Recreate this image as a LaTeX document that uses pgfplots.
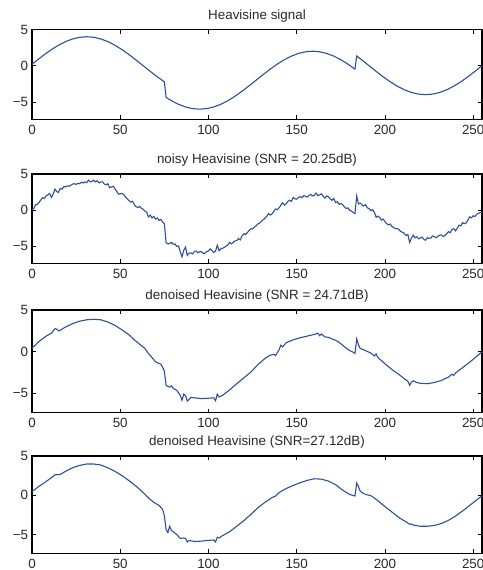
\documentclass[border=0pt]{standalone}
\usepackage{fontspec}
\setmainfont{Liberation Sans}
\usepackage{pgfplots}
\pgfplotsset{compat=1.18}
\definecolor{mblue}{RGB}{42,78,175}
\definecolor{tgray}{RGB}{40,40,40}
\newcommand{\tf}[1]{{\fontsize{13.4}{15}\selectfont #1}}
\pgfplotsset{
  every axis/.append style={line width=1.1pt},
  every tick/.append style={black, line width=0.6pt},
  every tick label/.append style={text=tgray},
  every x tick label/.append style={yshift=-1.5pt},
}
\pgfplotsset{hv/.style={
  scale only axis, width=450pt, anchor=north west,
  xmin=0, xmax=255, ymin=-7.4, ymax=5,
  tick align=inside, major tick length=4pt,
  xtick={0,50,100,150,200,250}, xticklabels={\tf{0},\tf{50},\tf{100},\tf{150},\tf{200},\tf{250}},
  ytick={-5,0,5}, yticklabels={\tf{\textminus5},\tf{0},\tf{5}},
}}
\newcommand{\ptitle}[1]{\node[anchor=base, text=tgray, inner sep=0pt] at ([yshift=10.3pt]rel axis cs:0.5,1) {\tf{#1}};}
\begin{document}
\begin{tikzpicture}
\begin{axis}[hv, at={(32pt,-29.5pt)}, height=89.8pt, clip=false]
\addplot[mblue, line width=1.1pt, mark=none] coordinates {(0,0.196)(3,0.780)(7,1.531)(11,2.222)(15,2.828)(19,3.326)(23,3.696)(27,3.923)(31,4.000)(35,3.923)(39,3.696)(43,3.326)(47,2.828)(51,2.222)(55,1.531)(59,0.780)(63,0)(67,-0.780)(71,-1.531)(75,-2.222)(76,-4.383)(79,-4.828)(83,-5.326)(87,-5.696)(91,-5.923)(95,-6)(99,-5.923)(103,-5.696)(107,-5.326)(111,-4.828)(115,-4.222)(119,-3.531)(123,-2.780)(127,-2)(131,-1.220)(135,-0.469)(139,0.222)(143,0.828)(147,1.326)(151,1.696)(155,1.923)(159,2.000)(163,1.923)(167,1.696)(171,1.326)(175,0.828)(179,0.222)(183,-0.469)(184,1.348)(187,0.780)(191,0)(195,-0.780)(199,-1.531)(203,-2.222)(207,-2.828)(211,-3.326)(215,-3.696)(219,-3.923)(223,-4)(227,-3.923)(231,-3.696)(235,-3.326)(239,-2.828)(243,-2.222)(247,-1.531)(251,-0.780)(255,0)};
\ptitle{Heavisine signal}
\end{axis}
\begin{axis}[hv, at={(32pt,-174pt)}, height=89.3pt, clip=false]
\addplot[mblue, line width=1.1pt, mark=none] coordinates {(0,0.10)(1,0.2)(2,0.75)(3,0.8)(4,1.05)(5,1.4)(6,1.70)(7,1.6)(8,1.95)(9,2.1)(10,2.30)(11,1.75)(12,2.2)(13,2.9)(14,2.55)(15,2.45)(16,3.0)(17,2.9)(18,3.25)(19,3.2)(20,3.35)(21,3.3)(22,3.45)(23,3.6)(24,3.65)(25,3.55)(26,3.7)(27,3.65)(28,3.85)(29,3.75)(30,3.9)(31,3.8)(32,4.15)(33,3.9)(34,3.95)(35,4.15)(36,3.9)(37,4.05)(38,3.75)(39,3.9)(40,3.9)(41,3.6)(42,3.5)(43,3.65)(44,3.1)(45,3.2)(46,3.3)(47,2.95)(48,2.6)(49,2.2)(50,2.25)(51,2.3)(52,2.15)(53,1.8)(54,1.55)(55,1.3)(56,1.1)(57,1.2)(58,0.75)(59,0.45)(60,0.35)(61,0.5)(62,0.25)(63,0.1)(64,-0.15)(65,-0.3)(66,-0.95)(67,-0.7)(68,-1.1)(69,-0.9)(70,-1.25)(71,-1.1)(72,-1.45)(73,-1.3)(74,-1.65)(75,-1.9)(76,-4.55)(77,-4.7)(78,-4.65)(79,-4.5)(80,-4.75)(81,-4.7)(82,-5.05)(83,-5.0)(84,-5.8)(85,-6.5)(86,-5.6)(87,-5.15)(88,-6.3)(89,-6.0)(90,-5.95)(91,-6.1)(92,-5.75)(93,-5.7)(94,-5.95)(95,-5.8)(96,-5.8)(97,-6.0)(98,-6.0)(99,-5.75)(100,-5.7)(101,-5.4)(102,-5.6)(103,-5.9)(104,-5.7)(105,-4.9)(106,-5.65)(107,-5.4)(108,-5.3)(109,-5.2)(110,-5.0)(111,-4.85)(112,-4.5)(113,-4.7)(114,-4.5)(115,-4.3)(116,-4.25)(117,-3.95)(118,-4.15)(119,-3.6)(120,-3.3)(121,-3.4)(122,-3.15)(123,-2.85)(124,-2.6)(125,-2.65)(126,-2.35)(127,-2.2)(128,-1.95)(129,-1.8)(130,-1.55)(131,-1.35)(132,-1.15)(133,-0.9)(134,-0.5)(135,-0.7)(136,-0.55)(137,-0.2)(138,0.15)(139,0.05)(140,0.3)(141,0.65)(142,1.0)(143,0.7)(144,0.85)(145,1.2)(146,1.35)(147,1.2)(148,1.75)(149,1.55)(150,1.5)(151,1.75)(152,1.85)(153,1.7)(154,2.0)(155,1.9)(156,1.8)(157,2.05)(158,2.15)(159,1.95)(160,2.05)(161,2.35)(162,2.0)(163,2.1)(164,2.25)(165,1.9)(166,1.65)(167,1.95)(168,1.85)(169,1.55)(170,1.35)(171,1.6)(172,1.05)(173,1.15)(174,0.8)(175,0.9)(176,0.75)(177,0.45)(178,0.2)(179,0.3)(180,-0.05)(181,-0.15)(182,-0.35)(183,-0.5)(184,1.95)(185,0.85)(186,0.95)(187,0.7)(188,0.55)(189,0.75)(190,0.3)(191,0.2)(192,-0.1)(193,0.05)(194,-0.3)(195,-1.0)(196,-0.85)(197,-1.05)(198,-1.4)(199,-1.25)(200,-1.6)(201,-1.9)(202,-2.05)(203,-1.95)(204,-2.3)(205,-2.45)(206,-2.6)(207,-2.55)(208,-2.75)(209,-3.0)(210,-3.1)(211,-3.25)(212,-3.55)(213,-3.4)(214,-4.5)(215,-3.9)(216,-3.5)(217,-3.85)(218,-3.7)(219,-4.0)(220,-3.9)(221,-3.75)(222,-4.05)(223,-4.2)(224,-3.85)(225,-3.95)(226,-3.9)(227,-3.6)(228,-3.7)(229,-3.85)(230,-3.65)(231,-3.5)(232,-3.45)(233,-3.7)(234,-3.55)(235,-3.3)(236,-3.0)(237,-3.15)(238,-2.7)(239,-2.6)(240,-2.9)(241,-2.5)(242,-2.1)(243,-2.2)(244,-1.75)(245,-1.9)(246,-1.8)(247,-1.4)(248,-0.95)(249,-1.1)(250,-0.8)(251,-0.9)(252,-0.6)(253,-0.45)(254,-0.35)(255,-0.3)};
\ptitle{noisy Heavisine (SNR = 20.25dB)}
\end{axis}
\begin{axis}[hv, at={(32pt,-310pt)}, height=102.7pt, clip=false]
\addplot[mblue, line width=1.1pt, mark=none] coordinates {(0,0.4)(4,1.2)(8,1.85)(11,2.2)(13,2.75)(14,2.7)(15,2.5)(16,2.55)(19,2.95)(23,3.35)(27,3.65)(31,3.82)(35,3.88)(39,3.82)(43,3.55)(47,3.15)(51,2.6)(55,2.0)(58,1.4)(60,1.05)(62,0.7)(64,0.35)(66,-0.25)(68,-0.75)(70,-1.25)(72,-1.45)(73,-1.55)(74,-1.9)(75,-2.4)(76,-4.1)(77,-4.25)(78,-4.3)(79,-4.15)(80,-4.45)(82,-4.7)(84,-5.3)(85,-5.9)(86,-5.15)(87,-5.35)(88,-6.0)(89,-5.8)(90,-5.55)(92,-5.6)(96,-5.7)(100,-5.65)(103,-5.6)(104,-5.95)(105,-5.15)(106,-5.5)(108,-5.3)(112,-4.65)(116,-3.9)(120,-3.2)(124,-2.5)(128,-1.6)(132,-0.85)(135,-0.45)(137,-0.35)(138,-0.5)(140,0.2)(141,0.75)(142,0.55)(144,1.05)(148,1.4)(152,1.65)(156,1.85)(160,2.05)(162,2.2)(163,1.9)(164,2.1)(166,1.75)(168,1.7)(170,1.5)(172,1.35)(174,1.1)(176,0.75)(178,0.4)(180,0.1)(182,-0.1)(183,-0.25)(184,1.5)(185,0.8)(186,0.35)(188,0.2)(190,0.0)(192,-0.2)(194,-0.55)(195,-0.3)(196,-0.75)(198,-1.1)(200,-1.5)(204,-2.2)(208,-2.8)(211,-3.3)(213,-3.6)(214,-4.1)(215,-3.7)(216,-3.55)(218,-3.75)(220,-3.85)(224,-3.9)(228,-3.75)(232,-3.5)(236,-3.1)(238,-2.75)(239,-2.9)(240,-2.6)(244,-1.95)(248,-1.3)(252,-0.6)(255,-0.05)};
\ptitle{denoised Heavisine (SNR = 24.71dB)}
\end{axis}
\begin{axis}[hv, at={(32pt,-456pt)}, height=97.3pt, clip=false]
\addplot[mblue, line width=1.1pt, mark=none] coordinates {(0,0.45)(4,1.15)(8,1.75)(12,2.4)(13,2.6)(16,2.65)(19,3.05)(23,3.5)(27,3.8)(31,3.98)(35,3.98)(39,3.85)(43,3.5)(47,3.05)(51,2.5)(55,1.85)(59,1.15)(63,0.35)(66,-0.35)(69,-0.9)(72,-1.3)(74,-1.8)(75,-2.6)(76,-4.4)(77,-4.75)(78,-3.95)(79,-4.5)(80,-4.65)(82,-5.0)(84,-5.5)(86,-5.45)(87,-5.5)(88,-5.95)(89,-5.75)(92,-5.9)(96,-5.85)(100,-5.75)(103,-5.7)(104,-5.95)(105,-5.35)(106,-5.45)(108,-5.15)(112,-4.65)(116,-3.95)(120,-3.25)(124,-2.45)(128,-1.6)(132,-0.9)(136,-0.3)(138,-0.1)(140,0.35)(144,0.85)(148,1.25)(152,1.6)(156,1.9)(160,2.1)(164,2.05)(168,1.8)(172,1.35)(176,0.65)(180,0.1)(183,-0.1)(184,1.55)(185,1.1)(186,0.5)(188,0.2)(190,0.05)(192,-0.05)(194,-0.35)(196,-0.7)(200,-1.45)(204,-2.15)(208,-2.85)(212,-3.4)(214,-3.7)(215,-3.65)(216,-3.8)(220,-3.95)(224,-3.95)(228,-3.85)(232,-3.6)(236,-3.2)(240,-2.65)(244,-2.0)(248,-1.3)(252,-0.6)(255,-0.05)};
\ptitle{denoised Heavisine (SNR=27.12dB)}
\end{axis}
\pgfresetboundingbox
\useasboundingbox (0,0) rectangle (482pt,-570pt);
\end{tikzpicture}
\end{document}
